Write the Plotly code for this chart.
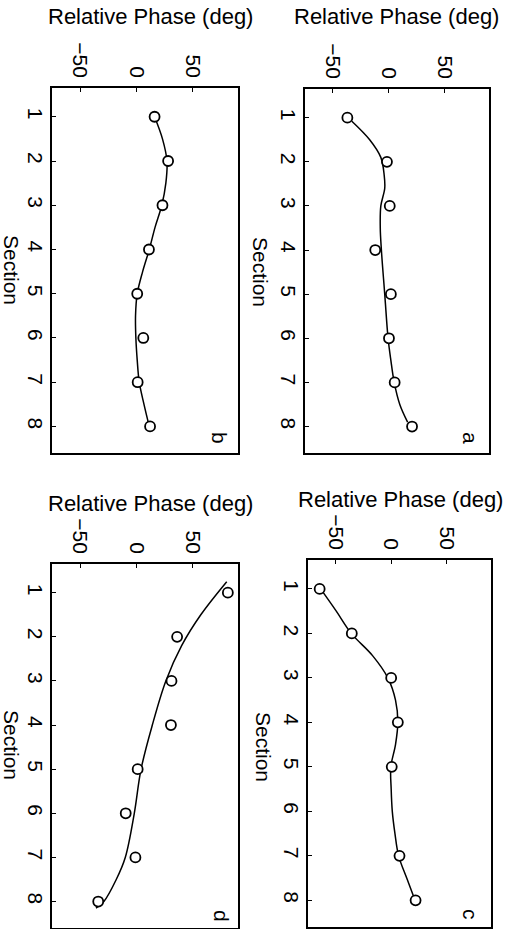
import plotly.graph_objects as go

W, H = 518, 929

# ---- data ----
sections = [1, 2, 3, 4, 5, 6, 7, 8]
sections_c = [1, 2, 3, 4, 5, 7, 8]

phase_a = [-37, -1.5, 1, -12, 2, 0.3, 5.4, 21]
phase_b = [16, 28, 23, 11, 0.6, 6, 1, 12]
phase_c = [-64.5, -35.5, 0, 6, 0.5, 7.5, 22]
phase_d = [81, 36, 31, 30.5, 1, -9.6, -1, -34]

fit_sec_a = [1.08, 1.5, 1.9, 2.3, 2.6, 3, 3.5, 4, 5, 6, 6.5, 7, 7.5, 7.9]
fit_a = [-33, -17, -7, -4, -3.5, -7, -7.5, -6.5, -3.5, -0.5, 2, 5, 10, 17]

fit_sec_b = [1, 1.5, 2, 2.5, 3, 3.5, 4, 4.5, 5, 5.5, 6, 6.5, 7, 7.5, 8]
fit_b = [16, 23, 27, 26, 22.4, 16.4, 11.3, 5.4, 0.6, -0.9, -0.6, 0.6, 2.4, 6.6, 11.3]

fit_sec_c = [1, 1.5, 2, 2.5, 3, 3.5, 4, 4.5, 5, 5.5, 6, 6.5, 7, 7.5, 8]
fit_c = [-63.6, -49.5, -36, -16.8, -3, 3.9, 6, 3.9, -0.3, 0, 1, 3.4, 6.7, 14, 21.5]

fit_sec_d = [0.75, 1.5, 2.2, 3, 4, 5, 6, 7, 7.5, 8, 8.15]
fit_d = [80, 57, 40, 26, 14, 4, -2, -10, -18, -29, -36]

phase_ticks = [-50, 0, 50]
phase_ticktext = ["\u221250", "0", "50"]
section_ticks = [1, 2, 3, 4, 5, 6, 7, 8]
phase_title = "Relative Phase (deg)"
section_title = "Section"

# ---- layout geometry (pixels) ----
boxes = {  # x0, x1, y0(top), y1(bottom)
    "a": (305, 489, 89, 453),
    "b": (52, 238, 88, 453),
    "c": (308, 491, 560, 927),
    "d": (52, 238, 564, 928),
}
FONT = "Liberation Sans, Arial, Helvetica, sans-serif"
FS = 21
FS_T = 22

panels = [
    ("a", sections, phase_a, fit_sec_a, fit_a),
    ("b", sections, phase_b, fit_sec_b, fit_b),
    ("c", sections_c, phase_c, fit_sec_c, fit_c),
    ("d", sections, phase_d, fit_sec_d, fit_d),
]

fig = go.Figure()
layout = dict(
    width=W, height=H, margin=dict(l=0, r=0, t=0, b=0),
    paper_bgcolor="white", plot_bgcolor="white", showlegend=False,
    font=dict(family=FONT, size=FS, color="black"),
)
annotations = []

for i, (letter, secs, vals, fsec, fval) in enumerate(panels):
    n = "" if i == 0 else str(i + 1)
    xa, ya = "x" + n, "y" + n
    x0, x1, y0, y1 = boxes[letter]
    fig.add_trace(go.Scatter(x=fval, y=fsec, mode="lines",
                             line=dict(color="black", width=1.5, shape="spline", smoothing=1.0),
                             xaxis=xa, yaxis=ya, hoverinfo="skip"))
    fig.add_trace(go.Scatter(x=vals, y=secs, mode="markers",
                             marker=dict(symbol="circle", size=10, color="white",
                                         line=dict(color="black", width=1.8)),
                             xaxis=xa, yaxis=ya))
    common = dict(showgrid=False, zeroline=False, showline=True, linecolor="black", linewidth=1.6,
                  mirror=True, ticks="inside", ticklen=4, tickwidth=1.4, tickcolor="black",
                  tickangle=90, tickfont=dict(family=FONT, size=FS, color="black"))
    layout["xaxis" + n] = dict(common, domain=[x0 / W, x1 / W], range=[-75, 90], side="top",
                               tickvals=phase_ticks, ticktext=phase_ticktext, anchor=ya,
                               ticklabelstandoff=1)
    layout["yaxis" + n] = dict(common, domain=[1 - y1 / H, 1 - y0 / H], range=[8.6, 0.35],
                               tickvals=section_ticks, anchor=xa, ticklabelstandoff=-3)
    tx = {"a": 396, "b": 150, "c": 400, "d": 150}[letter]
    ty = {"a": 17, "b": 17, "c": 499, "d": 503}[letter]
    annotations.append(dict(x=tx / W, y=1 - ty / H, xref="paper", yref="paper", text=phase_title,
                            showarrow=False, xanchor="center", yanchor="middle",
                            font=dict(family=FONT, size=FS_T, color="black")))
    sx = {"a": 261, "b": 12, "c": 264, "d": 12}[letter]
    sy = {"a": 272, "b": 270, "c": 747, "d": 745}[letter]
    annotations.append(dict(x=sx / W, y=1 - sy / H, xref="paper", yref="paper", text=section_title,
                            showarrow=False, textangle=90, xanchor="center", yanchor="middle",
                            font=dict(family=FONT, size=FS, color="black")))
    lx = {"a": 470, "b": 219, "c": 471, "d": 222}[letter]
    ly = {"a": 438, "b": 438, "c": 914, "d": 916}[letter]
    annotations.append(dict(x=lx / W, y=1 - ly / H, xref="paper", yref="paper", text=letter,
                            showarrow=False, textangle=90, xanchor="center", yanchor="middle",
                            font=dict(family=FONT, size=FS, color="black")))

layout["annotations"] = annotations
fig.update_layout(**layout)
fig.write_html("out.html", config={"displayModeBar": False},
               post_script="document.body.style.margin='0';document.body.style.overflow='hidden';")
